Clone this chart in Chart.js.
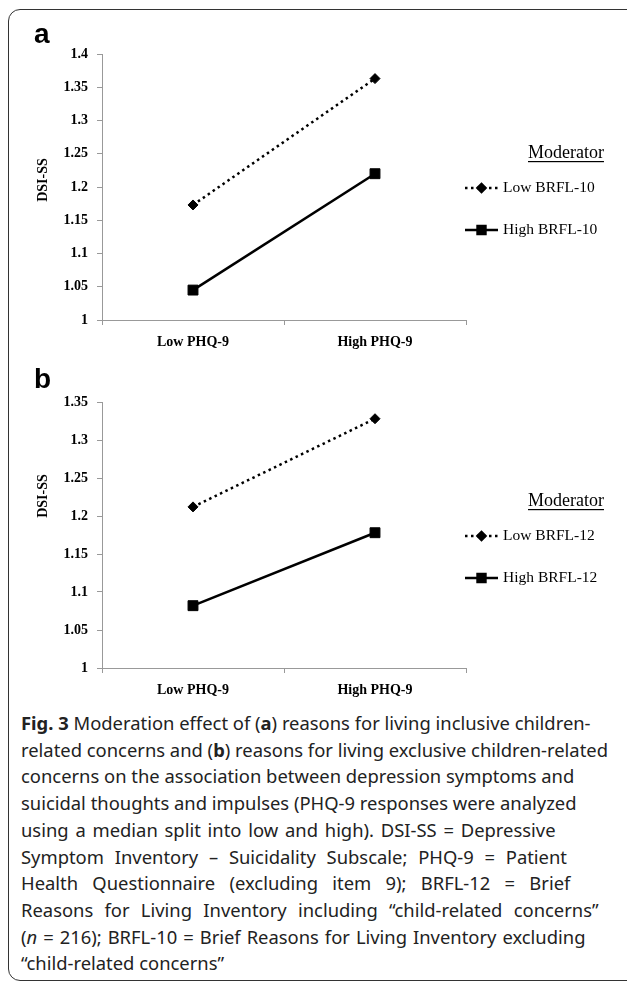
<!DOCTYPE html>
<html>
<head>
<meta charset="utf-8">
<script src="https://cdn.jsdelivr.net/npm/chart.js@4.4.1/dist/chart.umd.min.js"></script>
<style>
  body { margin: 0; width: 627px; height: 983px; overflow: hidden; position: relative; background: #fff; }
  #frame { position: absolute; left: 8px; top: 9px; width: 680px; height: 970px; border: 1.5px solid #333; border-radius: 12px; }
  canvas { position: absolute; left: 0; }
  #caption { position: absolute; left: 21px; top: 710px; font-family: "Noto Sans", sans-serif; font-size: 18.4px; line-height: 26.7px; color: #222; white-space: nowrap; }
</style>
</head>
<body>
<div id="frame"></div>
<canvas id="chartA" width="627" height="360" style="top:0"></canvas>
<canvas id="chartB" width="627" height="350" style="top:360px"></canvas>
<div id="caption">
<b>Fig. 3</b> Moderation effect of (<b>a</b>) reasons for living inclusive children-<br>
related concerns and (<b>b</b>) reasons for living exclusive children-related<br>
concerns on the association between depression symptoms and<br>
suicidal thoughts and impulses (PHQ-9 responses were analyzed<br>
<span style="word-spacing:2px">using a median split into low and high). DSI-SS = Depressive</span><br>
<span style="word-spacing:6px">Symptom Inventory – Suicidality Subscale; PHQ-9 = Patient</span><br>
<span style="word-spacing:9.5px">Health Questionnaire (excluding item 9); BRFL-12 = Brief</span><br>
<span style="word-spacing:6.5px">Reasons for Living Inventory including “child-related concerns”</span><br>
<span style="word-spacing:1.2px">(<i>n</i> = 216); BRFL-10 = Brief Reasons for Living Inventory excluding</span><br>
“child-related concerns”
</div>
<script>
// values
const categories = ['Low PHQ-9', 'High PHQ-9'];
const lowBrfl10 = [1.173, 1.363];
const highBrfl10 = [1.045, 1.220];
const lowBrfl12 = [1.212, 1.328];
const highBrfl12 = [1.082, 1.178];
const yMaxA = 1.4;
const yMaxB = 1.35;
const yMin = 1;
const yStep = 0.05;

const serif = '"Liberation Serif", "Times New Roman", serif';

// y title, panel letter and the "Moderator" legend
const sidePlugin = {
    id: 'side',
    afterDraw(chart, args, opts) {
        const ctx = chart.ctx;
        const area = chart.chartArea;
        ctx.save();
        ctx.fillStyle = '#000';

        ctx.font = 'bold 28px "Liberation Sans", Arial, sans-serif';
        ctx.textAlign = 'left';
        ctx.textBaseline = 'alphabetic';
        ctx.fillText(opts.letter, 34, opts.letterY);

        ctx.save();
        ctx.font = 'bold 14px ' + serif;
        ctx.translate(43, opts.titleY);
        ctx.rotate(-Math.PI / 2);
        ctx.textAlign = 'center';
        ctx.textBaseline = 'middle';
        ctx.fillText('DSI-SS', 0, 0);
        ctx.restore();

        // legend heading
        let x = area.right;
        ctx.font = '18px ' + serif;
        ctx.textAlign = 'left';
        ctx.textBaseline = 'middle';
        let hy = area.top + 99;
        ctx.fillText('Moderator', x + 62, hy);
        let w = ctx.measureText('Moderator').width;
        ctx.fillRect(x + 62, hy + 8, w, 1.2);

        ctx.font = '15.5px ' + serif;
        chart.data.datasets.forEach(function (ds, i) {
            let y = area.top + 134 + i * 42;
            ctx.strokeStyle = '#000';
            ctx.lineWidth = ds.borderWidth;
            ctx.setLineDash(ds.borderDash || []);
            ctx.beginPath();
            ctx.moveTo(x - 1, y);
            ctx.lineTo(x + 32, y);
            ctx.stroke();
            ctx.setLineDash([]);
            ctx.fillStyle = '#000';
            Chart.helpers.drawPoint(ctx, {
                pointStyle: ds.pointStyle,
                radius: ds.pointRadius * 0.8,
                rotation: 0,
                borderWidth: 1
            }, x + 15.5, y);
            ctx.fillText(ds.label, x + 37, y);
        });
        ctx.restore();
    }
};

function makeChart(id, lowData, highData, legendNames, yMax, padTop, xHeight, opts) {
    return new Chart(document.getElementById(id), {
        type: 'line',
        data: {
            labels: categories,
            datasets: [{
                label: legendNames[0],
                data: lowData,
                borderColor: '#000',
                backgroundColor: '#000',
                borderWidth: 2.5,
                borderDash: [2.5, 3.5],
                pointStyle: 'rectRot',
                pointRadius: 5,
                pointBorderWidth: 1,
                fill: false
            }, {
                label: legendNames[1],
                data: highData,
                borderColor: '#000',
                backgroundColor: '#000',
                borderWidth: 2.5,
                pointStyle: 'rect',
                pointRadius: 7,
                pointBorderWidth: 1,
                fill: false
            }]
        },
        options: {
            responsive: false,
            animation: false,
            devicePixelRatio: 1,
            layout: { padding: { top: padTop, left: 0, right: 627 - 466, bottom: 0 } },
            plugins: {
                legend: { display: false },
                tooltip: { enabled: false },
                side: opts
            },
            scales: {
                x: {
                    type: 'category',
                    offset: true,
                    afterFit: function (scale) { scale.height = xHeight; },
                    grid: { offset: true, drawOnChartArea: false, tickLength: 5, color: '#999' },
                    border: { color: '#999' },
                    ticks: { color: '#000', padding: 9, font: { family: serif, weight: 'bold', size: 14 } }
                },
                y: {
                    min: yMin,
                    max: yMax,
                    afterFit: function (scale) { scale.width = 102; },
                    grid: { drawOnChartArea: false, tickLength: 5, color: '#999' },
                    border: { color: '#999' },
                    ticks: {
                        stepSize: yStep,
                        color: '#000',
                        padding: 9,
                        font: { family: serif, weight: 'bold', size: 14 },
                        callback: function (v) { return String(+v.toFixed(2)); }
                    }
                }
            }
        },
        plugins: [sidePlugin]
    });
}

makeChart('chartA', lowBrfl10, highBrfl10, ['Low BRFL-10', 'High BRFL-10'], yMaxA, 54, 40,
    { letter: 'a', letterY: 43, titleY: 180 });
makeChart('chartB', lowBrfl12, highBrfl12, ['Low BRFL-12', 'High BRFL-12'], yMaxB, 42, 42,
    { letter: 'b', letterY: 28, titleY: 136 });
</script>
</body>
</html>
